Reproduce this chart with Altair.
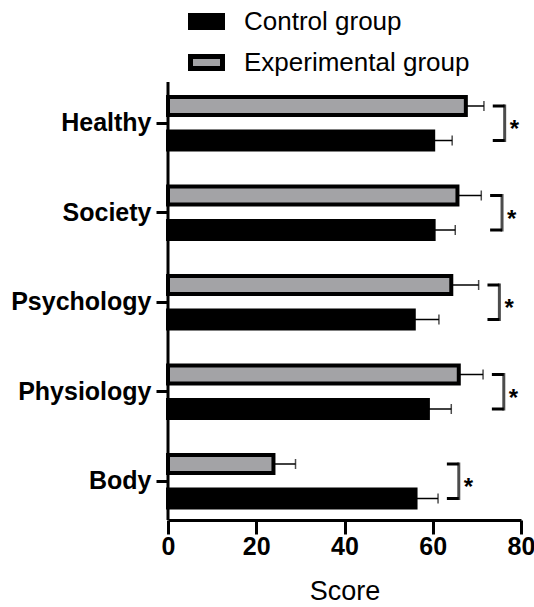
import altair as alt
import pandas as pd

# Domains of the questionnaire, top to bottom
domains = ["Healthy", "Society", "Psychology", "Physiology", "Body"]
groups = ["Control group", "Experimental group"]

# Mean scores and standard deviations per domain
control_mean = [60.1, 60.2, 55.7, 58.9, 56.1]
control_sd = [4.3, 4.9, 5.7, 5.3, 5.1]
experimental_mean = [67.5, 65.6, 64.2, 65.9, 23.9]
experimental_sd = [4.1, 5.4, 6.2, 5.5, 5.0]

# Significance marker per domain
significance = ["*", "*", "*", "*", "*"]

rows = []
for i, d in enumerate(domains):
    rows.append({"domain": d, "group": "Control group",
                 "mean": control_mean[i], "sd": control_sd[i]})
    rows.append({"domain": d, "group": "Experimental group",
                 "mean": experimental_mean[i], "sd": experimental_sd[i]})
bars = pd.DataFrame(rows)
bars["upper"] = bars["mean"] + bars["sd"]

# Brackets sit just right of the longer error bar in each domain
brk = []
for i, d in enumerate(domains):
    top = max(control_mean[i] + control_sd[i], experimental_mean[i] + experimental_sd[i])
    start = top + 2.0
    brk.append({"domain": d, "start": start, "end": start + 2.7, "label": significance[i]})
brackets = pd.DataFrame(brk)
bracket_ends = pd.concat([
    brackets.assign(group="Experimental group"),
    brackets.assign(group="Control group"),
])

FONT = "Liberation Sans"

y_enc = alt.Y("domain:N", sort=domains,
              scale=alt.Scale(paddingInner=0, paddingOuter=0, range=[-3.5, 444]),
              axis=alt.Axis(title=None, labelFont=FONT, labelFontSize=25,
                            labelFontWeight="bold", labelColor="black",
                            labelPadding=5, tickSize=12, tickWidth=3,
                            tickColor="black", domain=False))
y_off = alt.YOffset("group:N",
                    scale=alt.Scale(domain=["Experimental group", "Control group"],
                                    paddingInner=0.478, paddingOuter=0.536))
x_scale = alt.Scale(domain=[0, 80], nice=False)

bar_layer = alt.Chart(bars).mark_bar(stroke="black", strokeWidth=4).encode(
    x=alt.X("mean:Q", scale=x_scale,
            axis=alt.Axis(title="Score", values=[0, 20, 40, 60, 80],
                          labelFont=FONT, labelFontSize=25,
                          labelFontWeight="bold", labelColor="black",
                          labelPadding=0, labelFlush=False, labelOverlap=False,
                          tickSize=14, tickWidth=3,
                          tickColor="black", domainWidth=3,
                          domainColor="black", grid=False,
                          titleFont=FONT, titleFontSize=27,
                          titleFontWeight="normal", titleColor="black",
                          titlePadding=19)),
    y=y_enc,
    yOffset=y_off,
    color=alt.Color("group:N",
                    scale=alt.Scale(domain=groups, range=["black", "#a3a3a6"]),
                    legend=alt.Legend(
                        title=None, orient="none", legendX=20, legendY=-79,
                        direction="vertical", padding=0,
                        symbolType="M-1,-0.375H1V0.375H-1Z", symbolSize=1024,
                        symbolStrokeColor="black", symbolStrokeWidth=5,
                        symbolOpacity=1,
                        labelFont=FONT, labelFontSize=26, labelColor="black",
                        labelOffset=19, labelLimit=400, rowPadding=6)),
)

# Vertical axis line at zero
zero_line = alt.Chart(pd.DataFrame({"zero": [0]})).mark_rule(
    color="black", strokeWidth=3).encode(x=alt.X("zero:Q", scale=x_scale))

err_line = alt.Chart(bars).mark_rule(color="black", strokeWidth=1.5).encode(
    x=alt.X("mean:Q", scale=x_scale),
    x2="upper:Q",
    y=y_enc,
    yOffset=y_off,
)

err_cap = alt.Chart(bars).mark_tick(color="black", thickness=1.5, size=10,
                                    orient="vertical").encode(
    x=alt.X("upper:Q", scale=x_scale),
    y=y_enc,
    yOffset=y_off,
)

bracket_arms = alt.Chart(bracket_ends).mark_rule(color="black", strokeWidth=3).encode(
    x=alt.X("start:Q", scale=x_scale),
    x2="end:Q",
    y=y_enc,
    yOffset=y_off,
)

bracket_spine = alt.Chart(brackets).mark_tick(color="black", thickness=3, size=37.5,
                                              orient="vertical").encode(
    x=alt.X("end:Q", scale=x_scale),
    y=y_enc,
)

stars = alt.Chart(brackets).mark_text(font=FONT, fontSize=24, fontWeight="bold",
                                      align="left", baseline="middle",
                                      dx=5, dy=7, color="black").encode(
    x=alt.X("end:Q", scale=x_scale),
    y=y_enc,
    text="label:N",
)

chart = alt.layer(bar_layer, zero_line, err_line, err_cap, bracket_arms,
                  bracket_spine, stars).properties(
    width=353, height=438,
    autosize=alt.AutoSizeParams(type="none"),
    padding={"left": 168, "top": 82, "right": 13, "bottom": 87},
    background="white",
).configure_view(strokeWidth=0)

chart.save("out.html", embed_options={"renderer": "svg", "actions": False})
